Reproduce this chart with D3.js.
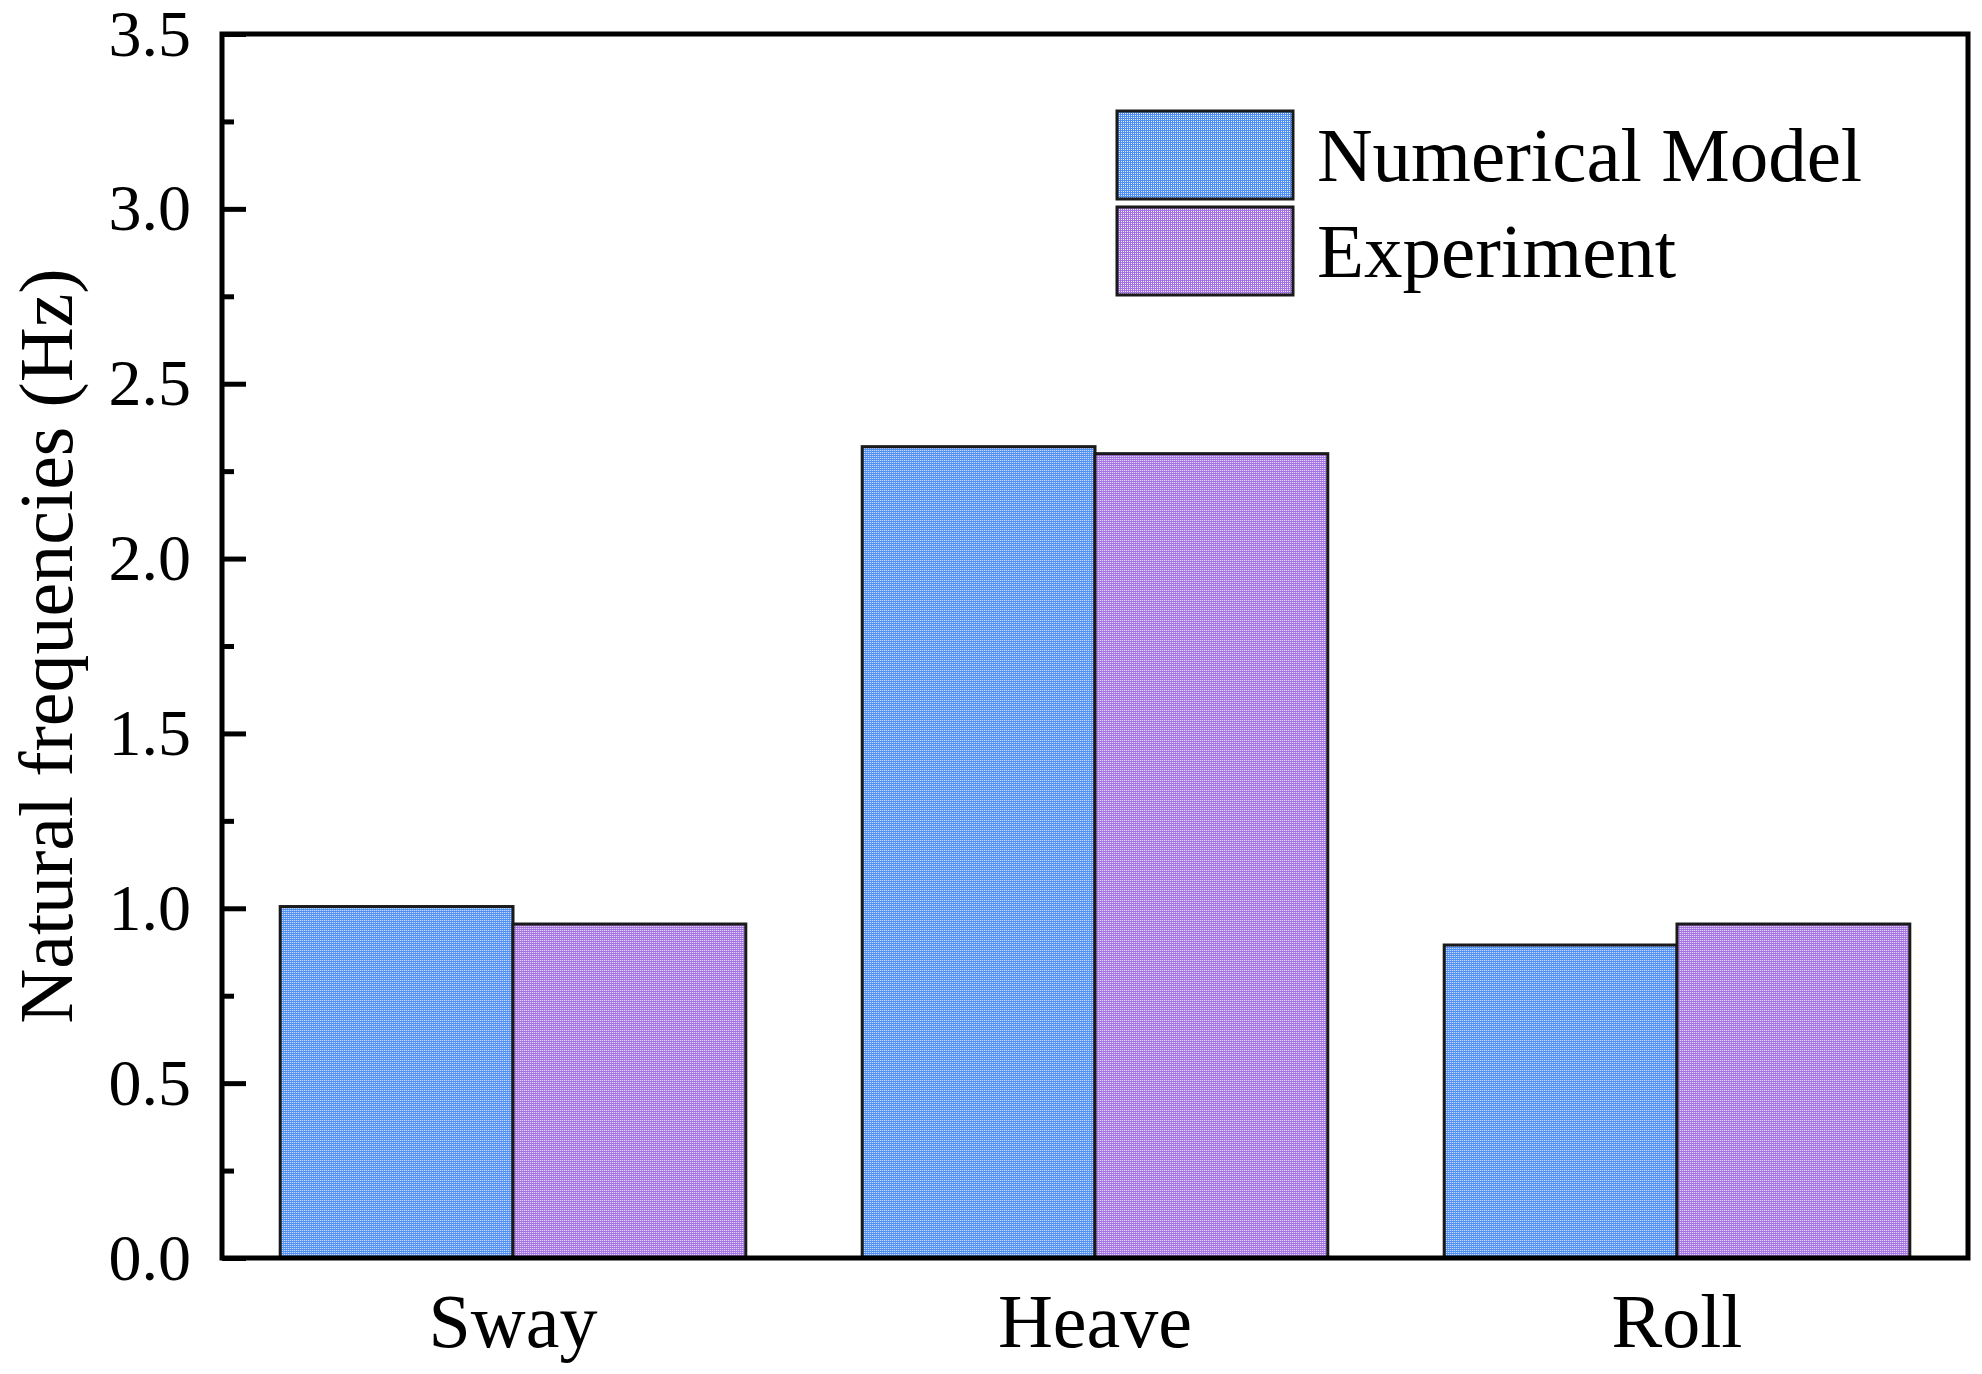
<!DOCTYPE html>
<html>
<head>
<meta charset="utf-8">
<script src="https://cdn.jsdelivr.net/npm/d3@7"></script>
<style>
  html, body { margin: 0; padding: 0; background: #fff; }
  svg { display: block; }
  text { font-family: "Liberation Serif", "Times New Roman", serif; fill: #000; }
</style>
</head>
<body>
<svg id="viz" width="1982" height="1374"></svg>
<script>
// Data
const categories = ["Sway", "Heave", "Roll"];
const seriesNames = ["Numerical Model", "Experiment"];
const numerical  = [1.005, 2.32, 0.895];
const experiment = [0.955, 2.30, 0.955];
const yMajorTicks = [0, 0.5, 1.0, 1.5, 2.0, 2.5, 3.0, 3.5];
const yMinorTicks = [0.25, 0.75, 1.25, 1.75, 2.25, 2.75, 3.25];

const W = 1982, H = 1374;
const X0 = 222, X1 = 1968, Y0 = 1258, Y1 = 34;
const colors = { base: ["#4f8ef2", "#a473e2"], id: ["patBlue", "patPurple"] };

const svg = d3.select("#viz");

// dotted fill like the original
const defs = svg.append("defs");
colors.id.forEach((id, i) => {
  const p = defs.append("pattern").attr("id", id)
    .attr("patternUnits", "userSpaceOnUse")
    .attr("width", 2).attr("height", 2);
  p.append("rect").attr("width", 2).attr("height", 2).attr("fill", colors.base[i]);
  p.append("rect").attr("width", 1).attr("height", 1).attr("fill", "#fff").attr("opacity", 0.85);
});

const x = d3.scaleBand().domain(categories).range([X0, X1])
  .paddingInner(0.2).paddingOuter(0.1);
const xs = d3.scaleBand().domain(seriesNames).range([0, x.bandwidth()]);
const y = d3.scaleLinear().domain([0, 3.5]).range([Y0, Y1]);

const rows = categories.map((c, i) => ({ cat: c, vals: [numerical[i], experiment[i]] }));

// bars
const groups = svg.append("g").selectAll("g")
  .data(rows).join("g")
  .attr("transform", d => `translate(${x(d.cat)},0)`);

groups.selectAll("rect")
  .data(d => d.vals.map((v, j) => ({ v, s: seriesNames[j], j })))
  .join("rect")
    .attr("x", d => xs(d.s))
    .attr("y", d => y(d.v))
    .attr("width", xs.bandwidth())
    .attr("height", d => Y0 - y(d.v))
    .attr("fill", d => `url(#${colors.id[d.j]})`)
    .attr("stroke", "#1a1a1a")
    .attr("stroke-width", 3);

// y axis, ticks pointing inward
const gy = svg.append("g").attr("transform", `translate(${X0},0)`);
gy.call(d3.axisLeft(y).tickValues(yMajorTicks).tickFormat(d3.format(".1f"))
  .tickSize(-24).tickPadding(31));
gy.select(".domain").remove();
gy.selectAll(".tick line").attr("stroke", "#000").attr("stroke-width", 5);
gy.selectAll(".tick text").style("font-size", "66px")
  .style("font-family", "'Liberation Serif', 'Times New Roman', serif");

const gyMinor = svg.append("g").attr("transform", `translate(${X0},0)`);
gyMinor.call(d3.axisLeft(y).tickValues(yMinorTicks).tickFormat("").tickSize(-12));
gyMinor.select(".domain").remove();
gyMinor.selectAll(".tick line").attr("stroke", "#000").attr("stroke-width", 5);

// x axis labels
const gx = svg.append("g").attr("transform", `translate(0,${Y0})`);
gx.call(d3.axisBottom(x).tickSize(0).tickPadding(35));
gx.select(".domain").remove();
gx.selectAll(".tick text").style("font-size", "76px")
  .style("font-family", "'Liberation Serif', 'Times New Roman', serif");

// frame
svg.append("rect")
  .attr("x", X0).attr("y", Y1)
  .attr("width", X1 - X0).attr("height", Y0 - Y1)
  .attr("fill", "none").attr("stroke", "#000").attr("stroke-width", 5);

// y title
svg.append("text")
  .attr("transform", `translate(72,${(Y0 + Y1) / 2}) rotate(-90)`)
  .attr("text-anchor", "middle")
  .style("font-size", "76px")
  .text("Natural frequencies (Hz)");

// legend
const leg = svg.append("g").attr("transform", "translate(1117,111)");
const li = leg.selectAll("g").data(seriesNames).join("g")
  .attr("transform", (d, i) => `translate(0,${i * 96})`);
li.append("rect")
  .attr("width", 176).attr("height", 88)
  .attr("fill", (d, i) => `url(#${colors.id[i]})`)
  .attr("stroke", "#1a1a1a").attr("stroke-width", 3);
li.append("text")
  .attr("x", 200).attr("y", 70)
  .style("font-size", "77px")
  .text(d => d);
</script>
</body>
</html>
